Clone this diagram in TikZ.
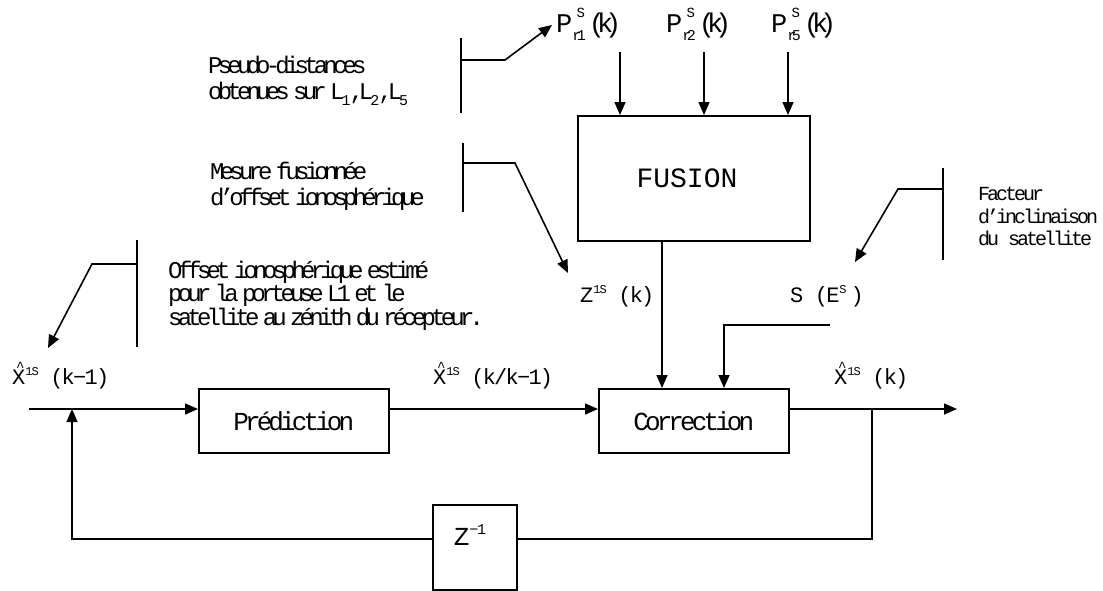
\documentclass[tikz,border=0pt]{standalone}
\usepackage{fontspec}
\setmainfont{Liberation Mono}
\newfontfamily\annotfont[LetterSpace=-20,WordSpace=0.35]{Liberation Mono}
\newfontfamily\smallannotfont[LetterSpace=-15,WordSpace=0.4]{Liberation Mono}
\newfontfamily\boxfont[LetterSpace=-15]{Liberation Mono}
\newfontfamily\labfont[LetterSpace=-8]{Liberation Mono}
\newfontfamily\pfont[LetterSpace=-30]{Liberation Mono}
\usetikzlibrary{arrows.meta}
\newcommand{\xh}{\rlap{\kern4pt\raisebox{0.55em}{\fontsize{14}{14}\selectfont\textasciicircum}}X}
\newcommand{\sps}[1]{\raisebox{0.4em}{\fontsize{12}{12}\selectfont #1}}
\newcommand{\zsps}[1]{\raisebox{0.4em}{\fontsize{15}{15}\selectfont #1}}
\newcommand{\pss}[2]{\rlap{\raisebox{0.55em}{\fontsize{14}{14}\selectfont\ #1}}\raisebox{-0.3em}{\fontsize{15}{15}\selectfont #2}}
\newcommand{\lsub}[1]{\kern-3pt\raisebox{-0.25em}{\fontsize{15}{15}\selectfont #1}\kern-1pt}
\newcommand{\ncomma}{,\kern-5pt}
\tikzset{
  blk/.style={draw, line width=1.6pt, inner sep=0pt, anchor=north west},
  annot/.style={inner sep=0pt, anchor=north west, align=left, font=\annotfont\fontsize{24}{26}\selectfont},
  sannot/.style={inner sep=0pt, anchor=north west, align=left, font=\smallannotfont\fontsize{20}{22.5}\selectfont},
  lab/.style={inner sep=0pt, anchor=base west, font=\labfont\fontsize{22}{24}\selectfont},
  plab/.style={inner sep=0pt, anchor=base west, font=\pfont\fontsize{27}{29}\selectfont},
  conn/.style={line width=1.6pt},
  arr/.style={line width=1.6pt, -{Triangle[length=13pt,width=11pt]}},
}
\begin{document}
\begin{tikzpicture}[x=1pt,y=-1pt]
\useasboundingbox (0,0) rectangle (1103,590);
% boxes
\node[blk, minimum width=232pt, minimum height=125pt] (fusion) at (577,115) {};
\node[inner sep=0pt, font=\fontsize{28}{30}\selectfont] (fusiontext) at (687,178) {FUSION};
\node[blk, minimum width=190pt, minimum height=64pt, font=\boxfont\fontsize{26}{28}\selectfont] (pred) at (198,388) {Prédiction};
\node[blk, minimum width=190pt, minimum height=64pt, font=\boxfont\fontsize{26}{28}\selectfont] (corr) at (598,388) {Correction};
\node[blk, minimum width=84pt, minimum height=85pt] (zbox) at (432,504) {};
\node[inner sep=0pt, font=\labfont\fontsize{26}{28}\selectfont] (ztext) at (470,535) {Z\zsps{−1}};
% labels
\node[plab] (pr1) at (556,32) {P\pss{S}{r1}\kern3pt(k)};
\node[plab] (pr2) at (666,32) {P\pss{S}{r2}\kern3pt(k)};
\node[plab] (pr5) at (771,32) {P\pss{S}{r5}\kern3pt(k)};
\node[lab] (zlab) at (580,302) {Z\sps{1S} (k)};
\node[lab] (slab) at (790,302) {S (E\sps{S}\kern4pt)};
\node[lab] (xk1) at (12,384) {\xh\sps{1S} (k−1)};
\node[lab] (xkk) at (433,384) {\xh\sps{1S} (k/k−1)};
\node[lab] (xk) at (834,384) {\xh\sps{1S} (k)};
% annotations
\node[annot] (pseudo) at (208,56) {Pseudo-distances\\obtenues sur L\lsub{1}\ncomma L\lsub{2}\ncomma L\lsub{5}};
\node[annot] (mesure) at (210,162) {Mesure fusionnée\\d’offset ionosphérique};
\node[annot, font=\annotfont\fontsize{24}{21.5}\selectfont] (offset) at (168,261) {Offset ionosphérique estimé\\pour la porteuse L1 et le\\satellite au zénith du récepteur.};
\node[sannot] (facteur) at (978,187) {Facteur\\d’inclinaison\\du satellite};
% coordinates
\coordinate (a1) at (620,52);
\coordinate (a2) at (704,52);
\coordinate (a3) at (788,52);
\coordinate (ly) at (0,409);
\coordinate (in) at (29,409);
\coordinate (out) at (957,409);
\coordinate (br) at (872,409);
\coordinate (fb) at (0,539);
\coordinate (fl) at (72,539);
\coordinate (fj) at (72,409);
\coordinate (zx) at (662,0);
\coordinate (s1) at (830,325);
\coordinate (s2) at (724,325);
% arrows into fusion
\draw[arr] (a1) -- (a1 |- fusion.north);
\draw[arr] (a2) -- (a2 |- fusion.north);
\draw[arr] (a3) -- (a3 |- fusion.north);
% fusion -> correction
\draw[arr] (fusion.south -| zx) -- (corr.north -| zx);
\draw[arr] (s1) -- (s2) -- (corr.north -| s2);
% main chain
\draw[arr] (in) -- (in -| pred.west);
\draw[arr] (pred.east |- ly) -- (corr.west |- ly);
\draw[arr] (corr.east |- ly) -- (out);
% feedback
\draw[conn] (br) -- (br |- fb) -- (zbox.east |- fb);
\draw[arr] (zbox.west |- fb) -- (fl) -- (fj);
% callouts
\coordinate (c1a) at (461,38); \coordinate (c1b) at (461,113); \coordinate (c1c) at (461,60); \coordinate (c1d) at (505,60); \coordinate (c1e) at (552,25);
\draw[conn] (c1a) -- (c1b);
\draw[arr] (c1c) -- (c1d) -- (c1e);
\coordinate (c2a) at (463,143); \coordinate (c2b) at (463,212); \coordinate (c2c) at (463,163); \coordinate (c2d) at (515,163); \coordinate (c2e) at (568,273);
\draw[conn] (c2a) -- (c2b);
\draw[arr] (c2c) -- (c2d) -- (c2e);
\coordinate (c3a) at (943,168); \coordinate (c3b) at (943,260); \coordinate (c3c) at (943,189); \coordinate (c3d) at (898,189); \coordinate (c3e) at (855,262);
\draw[conn] (c3a) -- (c3b);
\draw[arr] (c3c) -- (c3d) -- (c3e);
\coordinate (c4a) at (137,240); \coordinate (c4b) at (137,347); \coordinate (c4c) at (137,264); \coordinate (c4d) at (92,264); \coordinate (c4e) at (48,348);
\draw[conn] (c4a) -- (c4b);
\draw[arr] (c4c) -- (c4d) -- (c4e);
\end{tikzpicture}
\end{document}
